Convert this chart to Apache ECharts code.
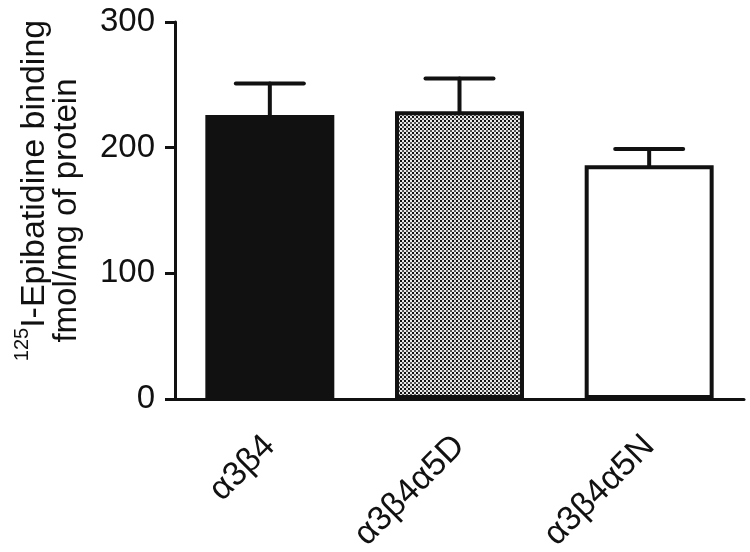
<!DOCTYPE html>
<html><head><meta charset="utf-8">
<script src="https://cdn.jsdelivr.net/npm/echarts@6/dist/echarts.min.js"></script>
<style>html,body{margin:0;padding:0;background:#fff}#c{width:750px;height:552px}</style>
</head><body><div id="c"></div>
<script>
const categories = ['α3β4', 'α3β4α5D', 'α3β4α5N'];
const means = [226, 229, 186];
const sem = [25, 26, 13];
const yTicks = [0, 100, 200, 300];

const cv = document.createElement('canvas');
cv.width = 4; cv.height = 4;
const g = cv.getContext('2d');
g.fillStyle = '#e8e8e8'; g.fillRect(0,0,4,4);
g.fillStyle = '#111'; g.fillRect(0,0,2,2);
g.fillStyle = '#555'; g.fillRect(2,2,2,2);

const styles = [
  {color: '#111', borderColor: '#111', borderWidth: 3},
  {color: {image: cv, repeat: 'repeat'}, borderColor: '#111', borderWidth: 4},
  {color: '#fff', borderColor: '#111', borderWidth: 4}
];

const FF = 'Liberation Sans, Arial';
const chart = echarts.init(document.getElementById('c'), null, {renderer: 'canvas'});
chart.setOption({
  animation: false,
  backgroundColor: '#fff',
  grid: {left: 175, right: 6, top: 22, bottom: 153, containLabel: false, outerBoundsMode: 'none'},
  xAxis: {
    type: 'category', data: categories,
    axisLine: {lineStyle: {color: '#111', width: 3}},
    axisTick: {alignWithLabel: true, length: 10, lineStyle: {color: '#111', width: 3}},
    axisLabel: {rotate: 45, margin: 42, fontSize: 34, color: '#111', fontFamily: FF}
  },
  yAxis: {
    type: 'value', min: yTicks[0], max: yTicks[yTicks.length-1], interval: 100,
    splitLine: {show: false},
    axisLine: {show: true, lineStyle: {color: '#111', width: 3}},
    axisTick: {show: true, length: 10, lineStyle: {color: '#111', width: 3}},
    axisLabel: {margin: 20, fontSize: 33, color: '#111', fontFamily: FF},
    name: '{sup|125}{a1|I-Epibatidine binding}\n{a|fmol/mg of protein}',
    nameLocation: 'middle', nameGap: 93,
    nameTextStyle: {
      color: '#111', fontFamily: FF, fontSize: 33, align: 'center',
      rich: {
        a: {fontSize: 33, color: '#111', fontFamily: FF, lineHeight: 30},
        a1: {fontSize: 34, color: '#111', fontFamily: FF, lineHeight: 40, verticalAlign: 'bottom'},
        sup: {fontSize: 20, color: '#111', fontFamily: FF, verticalAlign: 'top', lineHeight: 20, padding: [0, 0, 0, 40]}
      }
    }
  },
  series: [
    {
      type: 'bar', barWidth: '68%',
      data: means.map((v, i) => ({value: v, itemStyle: styles[i]})),
      z: 2
    },
    {
      type: 'custom', z: 3,
      data: means.map((v, i) => [i, v, v + sem[i]]),
      renderItem: function (params, api) {
        const top = api.coord([api.value(0), api.value(2)]);
        const base = api.coord([api.value(0), api.value(1)]);
        const hw = 34;
        const st = {stroke: '#111', lineWidth: 4, lineCap: 'round'};
        return {type: 'group', children: [
          {type: 'line', shape: {x1: top[0], y1: top[1], x2: base[0], y2: base[1]}, style: st},
          {type: 'line', shape: {x1: top[0]-hw, y1: top[1], x2: top[0]+hw, y2: top[1]}, style: st}
        ]};
      }
    }
  ]
});
</script></body></html>
